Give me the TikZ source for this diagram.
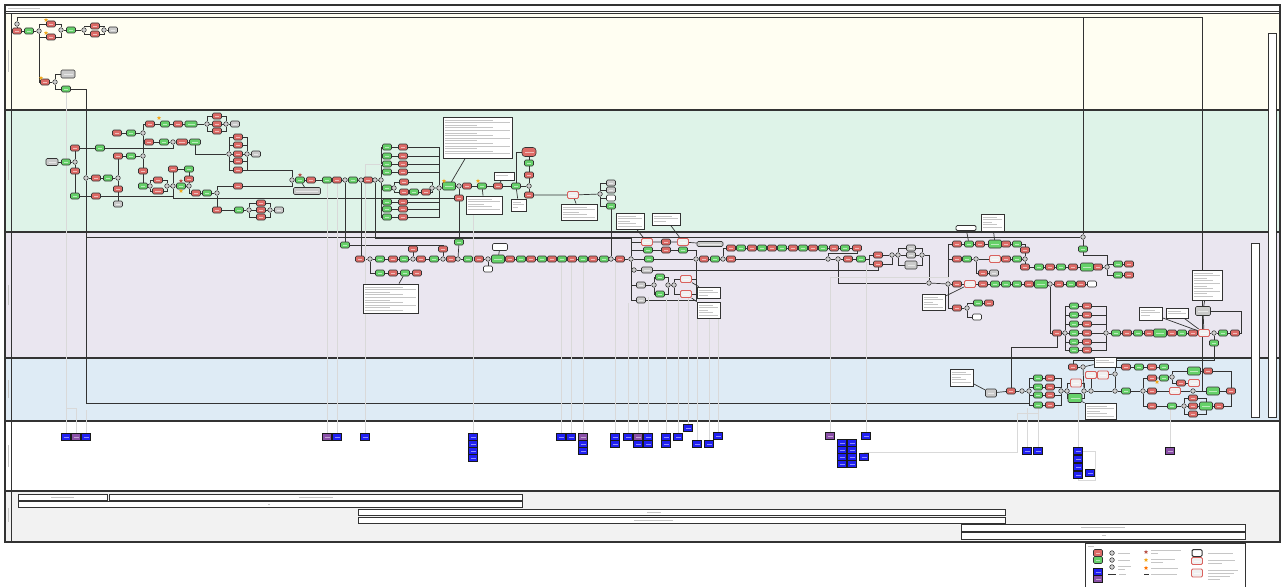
\documentclass[tikz,border=0pt]{standalone}
\usetikzlibrary{shapes.geometric,calc}
\definecolor{rfill}{HTML}{DD6B67}
\definecolor{gfill}{HTML}{66D16A}
\definecolor{gyfill}{HTML}{CACACA}
\definecolor{gwfill}{HTML}{CFCFCF}
\definecolor{bfill}{HTML}{2020F2}
\definecolor{pfill}{HTML}{8A50A8}
\definecolor{rofill}{HTML}{D9625E}
\definecolor{laneA}{HTML}{FFFEF2}
\definecolor{laneB}{HTML}{DEF3E8}
\definecolor{laneC}{HTML}{EAE6F0}
\definecolor{laneD}{HTML}{DEEBF5}
\definecolor{laneF}{HTML}{F2F2F2}
\definecolor{edge}{HTML}{333333}
\definecolor{starred}{HTML}{B8544A}
\definecolor{staryel}{HTML}{F2A81C}
\pgfdeclarelayer{lanes}
\pgfdeclarelayer{bg}
\pgfsetlayers{lanes,bg,main}
\newcommand{\mkflow}[3]{\foreach \st/\xx [count=\ii] in {#3} {\node[\st] (#1\ii) at (\xx,#2) {};}}
\newcommand{\mklink}[2]{\foreach \ii [evaluate=\ii as \jj using int(\ii+1)] in {1,...,#2} {\draw[conn] (#1\ii) -- (#1\jj);}}
\newcommand{\mknote}[5]{%
  \node[note, minimum width={#4-#2}, minimum height={#5-#3}] (#1) at ({(#2+#4)/2},{(#3+#5)/2}) {};
  \pgfmathtruncatemacro\nlines{max(1,(#5-#3-3)/2.6)}%
  \foreach \kk in {1,...,\nlines} {\draw[txt] ($(#1.north west)+(2,{0.8+\kk*2.6})$) -- ++({(#4-#2-4)*(0.5+0.25*mod(\kk,3))},0);}%
}
\begin{document}
\begin{tikzpicture}[x=1pt,y=-1pt,
  box/.style={draw=edge, line width=0.55pt, rounded corners=1.3pt, minimum width=9pt, minimum height=6pt, inner sep=0pt,
    path picture={\draw[white,opacity=0.55,line width=0.5pt] ([xshift=2.5pt]path picture bounding box.west) -- ([xshift=-2.5pt]path picture bounding box.east);}},
  rn/.style={box, fill=rfill},
  gn/.style={box, fill=gfill},
  gnb/.style={gn, minimum width=13pt, minimum height=8pt},
  gy/.style={box, fill=gyfill},
  wn/.style={box, fill=white},
  ro/.style={box, fill=white!88!gray, draw=rofill, line width=0.9pt, minimum width=11pt, minimum height=7pt},
  gw/.style={circle, draw=edge, fill=gwfill, line width=0.55pt, minimum size=4.6pt, inner sep=0pt},
  bn/.style={draw=black!90, fill=bfill, line width=0.6pt, minimum width=9pt, minimum height=7pt, inner sep=0pt,
    path picture={\draw[white,opacity=0.5,line width=0.5pt] ([xshift=2pt]path picture bounding box.west) -- ([xshift=-2pt]path picture bounding box.east);}},
  pn/.style={bn, fill=pfill},
  note/.style={draw=edge, fill=white, line width=0.8pt, inner sep=0pt},
  txt/.style={draw=gray!45, line width=0.9pt},
  conn/.style={draw=edge, line width=0.7pt},
  assoc/.style={draw=gray!30, line width=0.9pt},
  lanebd/.style={draw=edge, line width=1.4pt},
  lbox/.style={draw=edge, fill=white, line width=0.9pt},
  starR/.style={star, star points=5, star point ratio=2.3, fill=starred, inner sep=0pt, minimum size=4.5pt},
  starY/.style={starR, fill=staryel},
]
\useasboundingbox (0,0) rectangle (1281,586);
% ---------------- lanes ----------------
\begin{pgfonlayer}{lanes}
\fill[white] (0,0) rectangle (1281,586);
\fill[laneA] (5,13) rectangle (1280,110);
\fill[laneB] (5,110) rectangle (1280,232);
\fill[laneC] (5,232) rectangle (1280,358);
\fill[laneD] (5,358) rectangle (1280,421);
\fill[laneF] (5,491) rectangle (1280,542);
\draw[lanebd] (5,5) rectangle (1280,542);
\draw[edge, line width=0.6pt] (5,11) -- (1280,11);
\draw[lanebd] (5,13.5) -- (1280,13.5);
\foreach \yy in {110,232,358,421,491} \draw[lanebd] (5,\yy) -- (1280,\yy);
\draw[lanebd] (11.5,13.5) -- (11.5,542);
\draw[txt] (8,8) -- (40,8);
\foreach \ya/\yb in {50/72,160/180,285/305,380/398,445/467,508/522} \draw[txt] (8,\ya) -- (8,\yb);
\end{pgfonlayer}
\coordinate (topR) at (1202,17);
\coordinate (topM) at (1083,17);
\coordinate (j237) at (86,237);
\coordinate (jq) at (869,259);
% ---------------- lane 1 ----------------
\node[gw] (g0) at (17,24) {};
\node[rn] (s0) at (17,31) {};
\node[gn] (a1) at (29,31) {};
\node[gw] (a2) at (39,31) {};
\node[rn] (a3) at (51,24) {};
\node[rn] (a4) at (51,37) {};
\node[gw] (a5) at (61,30) {};
\node[gn] (a6) at (71,30) {};
\node[gw] (a7) at (84,30) {};
\node[rn] (a8) at (95,26) {};
\node[rn] (a9) at (95,34) {};
\node[gw] (a10) at (104,30) {};
\node[gy] (a11) at (113,30) {};
\node[rn] (b1) at (45,82) {};
\node[gw] (b2) at (55,82) {};
\node[gy, minimum width=14pt, minimum height=8pt] (b3) at (68,74) {};
\node[gn] (b4) at (66,89) {};
\node[starY] at (46,20) {};
\node[starY] at (46,33) {};
\node[starY] at (41,78) {};
% ---------------- lane 2 ----------------
\node[gy, minimum width=12pt, minimum height=7pt] (c1) at (52,162) {};
\node[gn] (c2) at (66,162) {};
\node[gw] (c3) at (75,162) {};
\node[rn] (c4) at (75,148) {};
\node[gn] (c5) at (100,148) {};
\node[rn] (c6) at (75,171) {};
\node[gn] (c7) at (75,196) {};
\node[rn] (c8) at (96,196) {};
\node[gw] (c9) at (86,178) {};
\node[rn] (c10) at (96,178) {};
\node[gn] (c11) at (108,178) {};
\node[gw] (c12) at (118,178) {};
\node[rn] (c13) at (117,133) {};
\node[gn] (c14) at (131,133) {};
\node[gw] (c15) at (143,133) {};
\node[rn] (c16) at (150,124) {};
\node[gn] (c17) at (165,124) {};
\node[rn] (c18) at (178,124) {};
\node[gn, minimum width=12pt] (c19) at (191,124) {};
\node[gw] (c20) at (207,124) {};
\node[rn] (c21) at (217,116) {};
\node[rn] (c22) at (217,124) {};
\node[rn] (c23) at (217,131) {};
\node[gw] (c24) at (226,124) {};
\node[gy] (c25) at (235,124) {};
\node[rn] (c26) at (149,142) {};
\node[gn] (c27) at (164,142) {};
\node[gw] (c28) at (173,142) {};
\node[rn, minimum width=11pt] (c29) at (182,142) {};
\node[gn, minimum width=11pt] (c30) at (195,142) {};
\node[gw] (c31) at (229,154) {};
\foreach \yy [count=\i from 32] in {137,145,154,161,170} {\node[rn] (c\i) at (238,\yy) {};}
\node[gw] (c37) at (247,154) {};
\node[gy] (c38) at (256,154) {};
\node[rn] (d1) at (118,156) {};
\node[gn] (d2) at (131,156) {};
\node[gw] (d3) at (143,156) {};
\node[rn] (d4) at (118,189) {};
\node[gy] (d5) at (118,204) {};
\node[rn] (d6) at (143,171) {};
\node[gn] (d7) at (143,186) {};
\node[gw] (d8) at (150,186) {};
\node[rn] (d9) at (158,180) {};
\node[rn, minimum width=11pt] (d10) at (158,191) {};
\node[gw] (d11) at (167,186) {};
\node[gw] (d12) at (173,186) {};
\node[gn] (d13) at (181,186) {};
\node[gw] (d14) at (189,186) {};
\node[rn] (d15) at (173,169) {};
\node[gn] (d16) at (189,169) {};
\node[rn] (d17) at (189,179) {};
\node[rn] (d18) at (196,193) {};
\node[gn] (d19) at (207,193) {};
\node[gw] (d20) at (217,193) {};
\node[rn] (d21) at (238,186) {};
\node[rn] (d22) at (217,210) {};
\node[gn] (d23) at (239,210) {};
\node[gw] (d24) at (249,210) {};
\node[rn] (d25) at (261,203) {};
\node[rn] (d26) at (261,210) {};
\node[rn] (d27) at (261,217) {};
\node[gw] (d28) at (270,210) {};
\node[gy] (d29) at (279,210) {};
\node[starY] at (159,118) {};
\node[starR] at (181,181) {};
\node[starY] at (181,191) {};
\mkflow{e}{180}{gw/292,gn/300,rn/311,gn/327,rn/337,gw/345,gn/353,gw/361,rn/368,gw/375,gw/381}
\node[gy, minimum width=27pt, minimum height=7pt] (e12) at (307,191) {};
\node[starR] at (300,175) {};
\foreach \yy [count=\i] in {147,156,164,172,202,209,217} {\node[gn] (f\i) at (387,\yy) {}; \node[rn] (fr\i) at (403,\yy) {};}
\node[gn] (k1) at (387,188) {};
\node[gw] (k2) at (394,188) {};
\node[rn] (k3) at (404,182) {};
\node[rn] (k4) at (404,192) {};
\node[gn] (k5) at (414,192) {};
\node[rn] (k6) at (426,192) {};
\node[gw] (k7) at (432,188) {};
\node[gw] (k9) at (439,188) {};
\mkflow{g}{186}{gnb/449,gw/459,rn/467,gn/482,rn/498,gn/516,gw/529}
\node[rn] (g8) at (529,195) {};
\node[rn] (g9) at (529,175) {};
\node[gn] (g10) at (529,163) {};
\node[rn, minimum width=14pt, minimum height=9pt, rounded corners=3pt] (g11) at (529,152) {};
\node[rn] (g12) at (459,198) {};
\node[ro] (h0) at (573,195) {};
\node[gw] (h1) at (600,194) {};
\node[gy] (h2) at (611,183) {};
\node[gy] (h3) at (611,190) {};
\node[wn] (h4) at (611,198) {};
\node[gn] (h5) at (611,206) {};
\node[starY] at (444,181) {};
\node[starY] at (478,181) {};
\mknote{N1}{443}{117}{512}{158}
\mknote{N2}{466}{196}{502}{214}
\mknote{N3}{494}{172}{514}{180}
\mknote{N4}{511}{199}{526}{211}
\mknote{N5}{561}{204}{597}{220}
\mknote{N6}{616}{213}{644}{229}
\mknote{N7}{652}{213}{680}{225}
% ---------------- lane 3 ----------------
\node[gn] (m0) at (345,245) {};
\node[gn] (m00) at (459,242) {};
\node[rn] (k413) at (413,249) {};
\node[rn] (k443) at (443,249) {};
\mkflow{m}{259}{rn/360,gw/370,gn/380,rn/393,gn/404,gw/413,rn/421,gn/434,gw/443,rn/451,gw/458,gn/468,rn/479,gw/488,gnb/498,rn/510,gn/521,rn/531,gn/542,rn/552,gn/562,rn/572,gn/583,rn/593,gn/604,gw/611,rn/620,gw/631}
\node[gn] (n1) at (649,259) {};
\mkflow{p}{259}{gw/696,rn/704,gn/715,gw/723,rn/731,gw/828,gw/838,rn/848,gn/861}
\mkflow{t}{248}{rn/731,gn/741,rn/752,gn/762,rn/772,gn/782,rn/793,gn/803,rn/813,gn/823,rn/834,gn/845,rn/857}
\node[rn] (q1) at (878,255) {};
\node[rn] (q2) at (878,264) {};
\node[gw] (q3) at (892,255) {};
\node[gw] (q4) at (898,255) {};
\node[gy] (q5) at (911,248) {};
\node[gy] (q6) at (911,255) {};
\node[gy, minimum width=12pt, minimum height=8pt] (q7) at (911,265) {};
\node[gw] (q8) at (922,255) {};
\mkflow{u}{273}{gn/380,rn/393,gn/405,rn/417}
\mknote{N10}{363}{284}{418}{313}
\node[wn, minimum width=15pt, minimum height=7pt] (x1) at (500,247) {};
\node[wn] (x2) at (488,269) {};
\node[ro] (s1) at (647,242) {};
\node[rn] (s2) at (666,242) {};
\node[ro] (s3) at (683,242) {};
\node[gy, minimum width=26pt, minimum height=5pt] (s4) at (710,244) {};
\node[gn] (s5) at (648,250) {};
\node[rn] (s6) at (666,250) {};
\node[gn] (s7) at (683,250) {};
\node[gw] (s8) at (634,270) {};
\node[gy, minimum width=11pt] (s9) at (647,270) {};
\node[gy] (s10) at (641,285) {};
\node[gw] (s11) at (654,285) {};
\node[gn] (s12) at (660,277) {};
\node[gn] (s13) at (660,294) {};
\node[gw] (s14) at (668,285) {};
\node[gw] (s15) at (674,285) {};
\node[ro] (s16) at (686,279) {};
\node[ro] (s17) at (686,294) {};
\node[gy] (s18) at (641,300) {};
\mknote{N8}{697}{287}{720}{298}
\mknote{N9}{697}{302}{720}{318}
\node[gw] (w929) at (929,283) {};
\mkflow{v}{284}{gw/948,rn/957,ro/970,rn/983,gn/995,gn/1006,gn/1017,rn/1029,gnb/1041,gw/1050,rn/1059,gn/1071,rn/1081,wn/1092}
\mkflow{y}{244}{rn/957,gn/969,rn/980,gnb/995,rn/1006,gn/1017}
\node[rn] (z1) at (1025,250) {};
\node[gw] (z2) at (1025,259) {};
\mkflow{o}{259}{rn/957,gn/967,gw/976,ro/995,rn/1006,gn/1017}
\node[rn] (o7) at (983,273) {};
\node[gy] (o8) at (994,273) {};
\node[rn] (o9) at (957,308) {};
\node[gw] (o10) at (967,308) {};
\node[gn] (o11) at (978,303) {};
\node[rn] (o12) at (989,303) {};
\node[wn] (o13) at (977,317) {};
\mkflow{r}{267}{rn/1025,gn/1039,rn/1050,gn/1061,rn/1073,gnb/1087,rn/1098,gw/1107}
\node[gn] (r9) at (1118,264) {};
\node[rn] (r10) at (1129,264) {};
\node[gn] (r11) at (1118,275) {};
\node[rn] (r12) at (1129,275) {};
\node[gw] (w1083) at (1083,237) {};
\node[gn] (w1083g) at (1083,249) {};
\mknote{N11}{922}{294}{945}{310}
\node[wn, minimum width=20pt, minimum height=5pt, line width=0.8pt] (X3) at (966,228) {};
\mknote{N12}{981}{214}{1004}{231}
\node[rn] (st0) at (1057,333) {};
\node[gw] (st1) at (1065,333) {};
\foreach \yy [count=\i] in {306,315,324,333,342,350} {\node[gn] (sg\i) at (1074,\yy) {}; \node[rn] (sr\i) at (1087,\yy) {};}
\node[gw] (st2) at (1106,333) {};
\mkflow{w}{333}{gn/1116,rn/1127,gn/1138,rn/1149,gnb/1160,rn/1172,gn/1182,rn/1193,ro/1204,gw/1214,gn/1223,rn/1235}
\node[gn] (w13) at (1214,343) {};
\mknote{N13}{1192}{270}{1222}{300}
\node[gy, minimum width=15pt, minimum height=9pt] (w14) at (1203,311) {};
\mknote{N14}{1139}{307}{1162}{320}
\mknote{N15}{1166}{308}{1188}{318}
% ---------------- lane 4 ----------------
\mknote{N16}{950}{369}{973}{386}
\node[gy, minimum width=11pt, minimum height=8pt] (l1) at (991,393) {};
\mkflow{la}{391}{rn/1011,gw/1022,gw/1029}
\foreach \yy [count=\i] in {378,387,395,405} {\node[gn] (lg\i) at (1038,\yy) {}; \node[rn] (lr\i) at (1050,\yy) {};}
\mkflow{lb}{391}{gw/1061,gw/1067}
\node[ro, minimum width=11pt, minimum height=8pt] (lc1) at (1076,383) {};
\node[gn, minimum width=14pt, minimum height=9pt] (lc2) at (1075,398) {};
\mkflow{ld}{391}{gw/1084,gw/1091,gw/1115,gn/1126,gw/1143,rn/1152,ro/1175,gw/1193,gnb/1213,rn/1231}
\node[rn] (le1) at (1073,367) {};
\node[gw] (le2) at (1083,367) {};
\mknote{N17}{1094}{357}{1116}{367}
\node[ro] (le3) at (1091,375) {};
\node[ro, minimum width=11pt, minimum height=8pt] (le4) at (1103,375) {};
\node[gw] (le5) at (1115,374) {};
\mkflow{lf}{367}{rn/1126,gn/1139,rn/1152,gn/1164}
\node[rn] (lh1) at (1152,378) {};
\node[gn] (lh2) at (1164,378) {};
\node[gw] (lh3) at (1172,377) {};
\node[gnb] (lh4) at (1194,371) {};
\node[rn] (lh5) at (1208,371) {};
\node[rn] (lh6) at (1181,383) {};
\node[ro] (lh7) at (1194,383) {};
\mkflow{li}{406}{rn/1152,gn/1172,gw/1184,rn/1193,gnb/1206,rn/1219}
\node[rn] (li7) at (1193,398) {};
\node[rn] (li8) at (1193,414) {};
\mknote{N18}{1085}{403}{1116}{419}
\node[starY] at (1157,382) {};
% right bars
\draw[lbox] (1251,243) rectangle (1259,417);
\draw[lbox] (1268,33) rectangle (1276,417);
% ---------------- lane 5 (data) ----------------
\foreach \st/\xx/\yy [count=\i] in {bn/66/437,pn/76/437,bn/86/437,pn/327/437,bn/337/437,bn/365/437,bn/473/437,bn/473/444,bn/473/451,bn/473/458,bn/561/437,bn/571/437,pn/583/437,bn/583/444,bn/583/451,bn/615/437,bn/615/444,bn/628/437,pn/638/437,bn/648/437,bn/638/444,bn/648/444,bn/666/437,bn/666/444,bn/678/437,bn/688/428,bn/697/444,bn/709/444,bn/718/436,pn/830/436,bn/866/436,bn/842/443,bn/852/443,bn/842/450,bn/852/450,bn/842/457,bn/852/457,bn/842/464,bn/852/464,bn/864/457,bn/1027/451,bn/1038/451,bn/1078/451,bn/1078/459,bn/1078/467,bn/1078/475,bn/1090/473,pn/1170/451}
  {\node[\st] (bl\i) at (\xx,\yy) {};}
% ---------------- lane 6 ----------------
\draw[lbox] (18,494) rectangle (107,500);
\draw[lbox] (109,494) rectangle (522,500);
\draw[lbox] (18,501) rectangle (522,507);
\draw[lbox] (358,509) rectangle (1005,515);
\draw[lbox] (358,517) rectangle (1005,523);
\draw[lbox] (961,524) rectangle (1245,531);
\draw[lbox] (961,532) rectangle (1245,539);
\draw[txt] (51,497) -- (74,497);
\draw[txt] (299,497) -- (333,497);
\draw[txt] (268,504) -- (270,504);
\draw[txt] (647,512) -- (661,512);
\draw[txt] (634,520) -- (673,520);
\draw[txt] (1081,527.5) -- (1125,527.5);
\draw[txt] (1102,535.5) -- (1106,535.5);
% ---------------- legend ----------------
\draw[lbox] (1085,543) rectangle (1245,590);
\draw[txt] (1088,546) -- (1094,546);
\node[rn, minimum height=7pt] (legR) at (1098,553) {};
\node[gn, minimum height=7pt] (legG) at (1098,560) {};
\node[bn] (legB) at (1098,572) {};
\node[pn] (legP) at (1098,579) {};
\node[gw] (legW1) at (1112,553) {};
\node[gw] (legW2) at (1112,560) {};
\node[gw] (legW3) at (1112,567) {};
\draw[edge, line width=1pt] (1108,574) -- (1116,574);
\draw[txt] (1118,553) -- (1130,553);
\draw[txt] (1118,560) -- (1130,560);
\draw[txt] (1118,566) -- (1131,566);
\draw[txt] (1118,569) -- (1125,569);
\draw[txt] (1119,574) -- (1126,574);
\node[starR] (legS1) at (1146,552) {};
\node[starY] (legS2) at (1146,560) {};
\node[starY, fill=orange!90!red] (legS3) at (1146,568) {};
\draw[edge, line width=0.8pt] (1144,574) -- (1149,574);
\draw[txt] (1151,550) -- (1181,550);
\draw[txt] (1151,553) -- (1158,553);
\draw[txt] (1151,559) -- (1175,559);
\draw[txt] (1151,562) -- (1163,562);
\draw[txt] (1151,568) -- (1178,568);
\draw[txt] (1151,574) -- (1177,574);
\node[wn, minimum width=10pt, minimum height=7pt, line width=1pt] (legN) at (1197,553) {};
\node[ro] (legO) at (1197,561) {};
\node[ro, minimum width=11pt, minimum height=8pt] (legO2) at (1197,573) {};
\draw[txt] (1208,553) -- (1233,553);
\draw[txt] (1208,560) -- (1235,560);
\draw[txt] (1208,563) -- (1222,563);
\draw[txt] (1208,570) -- (1238,570);
\draw[txt] (1208,573) -- (1234,573);
\draw[txt] (1208,576) -- (1230,576);
\draw[txt] (1208,579) -- (1220,579);
% ================= connectors =================
\begin{pgfonlayer}{bg}
% lane 1
\draw[conn] (g0) -- (s0);
\draw[conn] (g0) |- (topR);
\draw[conn] (topM) -- (w1083);
\draw[conn] (topR) |- (ld8);
\draw[conn] (s0) -- (a1) -- (a2);
\draw[conn] (a2) |- (a3); \draw[conn] (a2) |- (a4);
\draw[conn] (a3) -| (a5); \draw[conn] (a4) -| (a5);
\draw[conn] (a5) -- (a6) -- (a7);
\draw[conn] (a7) |- (a8); \draw[conn] (a7) |- (a9);
\draw[conn] (a8) -| (a10); \draw[conn] (a9) -| (a10);
\draw[conn] (a10) -- (a11);
\draw[conn] (a2) |- (b1); \draw[conn] (b1) -- (b2);
\draw[conn] (b2) |- (b3); \draw[conn] (b2) |- (b4);
\draw[conn] (b4) -| (c9);
\draw[conn] (c9) -- (86,403) -| (la3);
\draw[conn] (j237) -- (w1083);
% lane 2
\draw[conn] (c1) -- (c2) -- (c3);
\draw[conn] (c3) -- (c4); \draw[conn] (c3) -- (c6) -- (c7) -- (c8);
\draw[conn] (c4) -- (c5); \draw[conn] (c5) -| (c28);
\draw[conn] (c8) -| (d12);
\draw[conn] (d12) |- (g12);
\draw[conn] (c9) -- (c10) -- (c11) -- (c12);
\draw[conn] (c12) -- (d1); \draw[conn] (c12) -- (d4) -- (d5);
\draw[conn] (d1) -- (d2) -- (d3) -- (c15);
\draw[conn] (c13) -- (c14) -- (c15);
\draw[conn] (c15) |- (c16); \draw[conn] (c15) |- (c26);
\draw[conn] (c16) -- (c17) -- (c18) -- (c19) -- (c20);
\foreach \nn in {21,22,23} {\draw[conn] (c20) |- (c\nn); \draw[conn] (c\nn) -| (c24);}
\draw[conn] (c24) -- (c25);
\draw[conn] (c26) -- (c27) -- (c28) -- (c29) -- (c30);
\draw[conn] (c30) |- (c31);
\foreach \nn in {32,...,36} {\draw[conn] (c31) |- (c\nn); \draw[conn] (c\nn) -| (c37);}
\draw[conn] (c37) -- (c38);
\draw[conn] (c36) -| (e1);
\draw[conn] (d3) -- (d6) -- (d7) -- (d8);
\draw[conn] (d8) |- (d9); \draw[conn] (d8) |- (d10);
\draw[conn] (d9) -| (d11); \draw[conn] (d10) -| (d11);
\draw[conn] (d11) -- (d12) -- (d13) -- (d14);
\draw[conn] (d12) -- (d15) -- (d16) -- (d17) -- (d14);
\draw[conn] (d14) |- (d18); \draw[conn] (d18) -- (d19) -- (d20);
\draw[conn] (d20) |- (d21); \draw[conn] (d21) -| (e1);
\draw[conn] (d20) -- (d22) -- (d23) -- (d24);
\foreach \nn in {25,26,27} {\draw[conn] (d24) |- (d\nn); \draw[conn] (d\nn) -| (d28);}
\draw[conn] (d28) -- (d29);
\mklink{e}{10}
\draw[conn] (e2) -- (e12);
\foreach \i in {1,...,7} {\draw[conn] (e11) |- (f\i); \draw[conn] (f\i) -- (fr\i); \draw[conn] (fr\i) -| (k9);}
\draw[conn] (e11) |- (k1); \draw[conn] (k1) -- (k2);
\draw[conn] (k2) |- (k3); \draw[conn] (k2) |- (k4);
\draw[conn] (k4) -- (k5) -- (k6); \draw[conn] (k6) -| (k7); \draw[conn] (k3) -| (k7);
\draw[conn] (k7) -- (k9) -- (g1);
\mklink{g}{6}
\draw[conn] (g7) -- (g8); \draw[conn] (g7) -- (g9) -- (g10) -- (g11);
\draw[conn] (g6) |- (g11);
\draw[conn] (g8) -- (h0) -- (h1);
\foreach \nn in {2,...,5} {\draw[conn] (h1) |- (h\nn);}
\draw[conn] (g12) -- (g2); \draw[conn] (g12) -- (m00); \draw[conn] (m00) -- (m11);
\draw[conn] (N1) -- (g1); \draw[conn] (N2) -- (g4); \draw[conn] (N3) -- (g5);
\draw[conn] (N4) -- (g6); \draw[conn] (N5) -- (h0);
\draw[conn] (N6) -- (s1); \draw[conn] (N7) -- (s3);
\draw[conn] (h5) -- (m26);
\draw[conn] (e6) -- (m0); \draw[conn] (m0) -| (k413); \draw[conn] (m0) -| (k443);
\draw[conn] (k413) -- (m6); \draw[conn] (k443) -- (m9);
\draw[conn] (e8) |- (m1);
\draw[conn] (e10) -- (375,238) -| (m28);
% lane 3
\mklink{m}{27}
\draw[conn] (m28) -- (n1) -- (p1);
\mklink{p}{8}
\draw[conn] (p4) |- (t1);
\mklink{t}{12}
\draw[conn] (t13) -- (857,253) -- (828,253) -- (p6);
\draw[conn] (p9) -- (jq) |- (q1); \draw[conn] (jq) |- (q2);
\draw[conn] (q1) -- (q3); \draw[conn] (q2) -| (q3);
\draw[conn] (q3) -- (q4); \draw[conn] (q4) |- (q5); \draw[conn] (q4) -- (q6); \draw[conn] (q4) |- (q7);
\draw[conn] (q5) -| (q8); \draw[conn] (q6) -- (q8); \draw[conn] (q7) -| (q8);
\draw[conn] (q8) -| (w929); \draw[conn] (p7) |- (w929);
\draw[conn] (m2) |- (u1);
\mklink{u}{3}
\draw[conn] (u3) -- (N10);
\draw[conn] (m15) -- (x1); \draw[conn] (m14) -- (x2);
\draw[conn] (m28) |- (s1); \draw[conn] (m28) |- (s5); \draw[conn] (m28) |- (s8);
\draw[conn] (m28) |- (s10); \draw[conn] (m28) |- (s18);
\draw[conn] (s1) -- (s2) -- (s3) -- (s4);
\draw[conn] (s5) -- (s6) -- (s7); \draw[conn] (s7) -| (p1);
\draw[conn] (s8) -- (s9); \draw[conn] (s9) -| (q2);
\draw[conn] (s10) -- (s11); \draw[conn] (s11) |- (s12); \draw[conn] (s11) |- (s13);
\draw[conn] (s12) -| (s14); \draw[conn] (s13) -| (s14); \draw[conn] (s14) -- (s15);
\draw[conn] (s15) |- (s16); \draw[conn] (s15) |- (s17);
\draw[conn] (s16) -| (p1); \draw[conn] (s17) -| (p1); \draw[conn] (s18) -| (p1);
\draw[conn] (N8) -- (s16); \draw[conn] (N9) -- (s17);
\draw[conn] (w929) -- (v1);
\mklink{v}{13}
\draw[conn] (v1) |- (y1);
\mklink{y}{5}
\draw[conn] (y6) -| (z1); \draw[conn] (z1) -- (z2);
\draw[conn] (v1) |- (o1);
\mklink{o}{5}
\draw[conn] (o6) -- (z2);
\draw[conn] (o3) |- (o7); \draw[conn] (o7) -- (o8);
\draw[conn] (z2) -- (r1);
\mklink{r}{7}
\draw[conn] (r8) |- (r9); \draw[conn] (r8) |- (r11);
\draw[conn] (r9) -- (r10); \draw[conn] (r11) -- (r12);
\draw[conn] (w1083) -- (w1083g); \draw[conn] (w1083g) -- (1083,255) -| (r8);
\draw[conn] (N11) -- (v3); \draw[conn] (X3) -- (y2); \draw[conn] (N12) -- (y4);
\draw[conn] (v1) |- (o9); \draw[conn] (o9) -- (o10);
\draw[conn] (o10) |- (o11); \draw[conn] (o11) -- (o12); \draw[conn] (o10) |- (o13);
\draw[conn] (v10) |- (st0); \draw[conn] (st0) -- (st1);
\foreach \i in {1,...,6} {\draw[conn] (st1) |- (sg\i); \draw[conn] (sg\i) -- (sr\i); \draw[conn] (sr\i) -| (st2);}
\draw[conn] (st2) -- (w1);
\mklink{w}{11}
\draw[conn] (w10) -- (w13);
\draw[conn] (N13) -- (w14); \draw[conn] (w14) -- (w9);
\draw[conn] (N14) -- (w9); \draw[conn] (N15) -- (w9);
\draw[conn] (w12) -- (1241,333) |- (w14);
% lane 4
\draw[conn] (N16) -- (l1); \draw[conn] (l1) -- (la1);
\mklink{la}{2}
\foreach \i in {1,...,4} {\draw[conn] (la3) |- (lg\i); \draw[conn] (lg\i) -- (lr\i); \draw[conn] (lr\i) -| (lb1);}
\draw[conn] (lb1) -- (lb2); \draw[conn] (lb2) |- (lc1); \draw[conn] (lb2) |- (lc2);
\draw[conn] (lc1) -| (ld1); \draw[conn] (lc2) -| (ld1);
\mklink{ld}{9}
\draw[conn] (le1) -- (le2); \draw[conn] (le2) -- (N17); \draw[conn] (le2) -- (ld1);
\draw[conn] (ld2) -- (le3); \draw[conn] (le3) -- (le4) -- (le5); \draw[conn] (le5) -- (ld3);
\draw[conn] (le5) |- (lf1);
\mklink{lf}{3}
\draw[conn] (ld5) |- (lh1); \draw[conn] (lh1) -- (lh2) -- (lh3);
\draw[conn] (lh3) |- (lh4); \draw[conn] (lh4) -- (lh5); \draw[conn] (lh3) |- (lh6); \draw[conn] (lh6) -- (lh7);
\draw[conn] (lh5) -| (ld10);
\draw[conn] (ld5) |- (li1);
\mklink{li}{5}
\draw[conn] (li3) |- (li7); \draw[conn] (li3) |- (li8);
\draw[conn] (li7) -| (li5); \draw[conn] (li8) -| (li5);
\draw[conn] (li6) -| (ld10);
\draw[conn] (N18) -- (lc2);
\draw[conn] (la1) -- (1011,347) -| (st0);
\draw[conn] (w13) -- (1214,360) -| (le1);
% data associations
\draw[assoc] (b4) -- (bl1);
\draw[assoc] (bl2) -- (76,408) -- (66,408);
\draw[assoc] (bl3) -- (86,410);
\draw[assoc] (e4) -- (bl4);
\draw[assoc] (e5) -- (bl5);
\draw[assoc] (bl6) |- (f3);
\draw[assoc] (bl7) -- (bl7 |- N2.south);
\draw[assoc] (bl11) -- (bl11 |- m21.south);
\draw[assoc] (bl12) -- (bl12 |- m22.south);
\draw[assoc] (bl13) -- (bl13 |- m23.south);
\draw[assoc] (bl16) -- (bl16 |- m27.south);
\draw[assoc] (bl18) -- (bl18 |- s18.south);
\draw[assoc] (bl19) -- (bl19 |- s18.south);
\draw[assoc] (bl20) -- (bl20 |- s13.south);
\draw[assoc] (bl23) -- (bl23 |- s17.south);
\draw[assoc] (bl25) -- (bl25 |- s17.south);
\draw[assoc] (bl26) -- (bl26 |- s17.south);
\draw[assoc] (bl27) -- (bl27 |- N9.south);
\draw[assoc] (bl28) -- (bl28 |- N9.south);
\draw[assoc] (bl29) -- (bl29 |- N9.south);
\draw[assoc] (bl30) -- (830,277) -| (v1);
\draw[assoc] (bl31) -- (bl31 |- p9.south);
\draw[assoc] (bl40) |- (1017,452) -- (1017,413) -| (lg4);
\draw[assoc] (bl41) -- (bl41 |- lr4.south);
\draw[assoc] (bl42) -- (bl42 |- lg4.south);
\draw[assoc] (bl43) -- (bl43 |- lc2.south);
\draw[assoc] (bl43.east) -| (1095,480) -| (bl46);
\draw[assoc] (bl48) -- (bl48 |- li2.south);
\end{pgfonlayer}
\end{tikzpicture}
\end{document}
